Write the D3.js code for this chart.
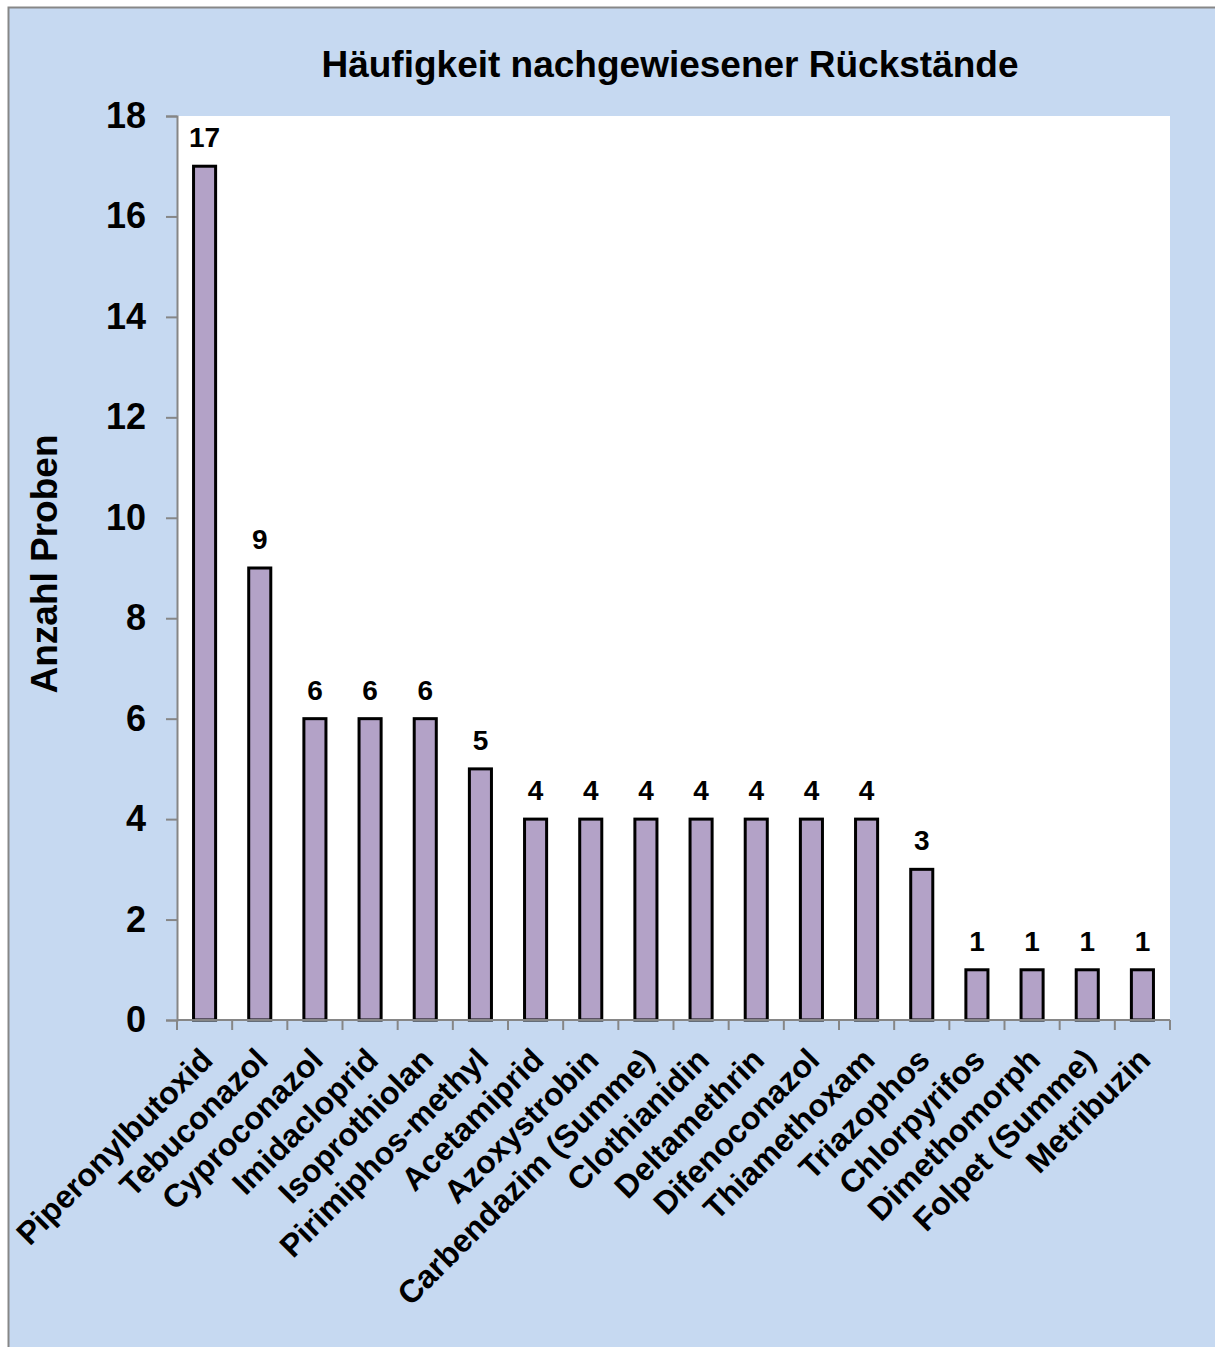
<!DOCTYPE html>
<html>
<head>
<meta charset="utf-8">
<script src="https://cdn.jsdelivr.net/npm/d3@7"></script>
<style>
  body { margin: 0; background: #fff; }
  text { font-family: "Liberation Sans", Arial, sans-serif; font-weight: bold; fill: #000; }
</style>
</head>
<body>
<div id="chart"></div>
<script>
'use strict';

// Data.
const substances = [
  'Piperonylbutoxid', 'Tebuconazol', 'Cyproconazol', 'Imidacloprid',
  'Isoprothiolan', 'Pirimiphos-methyl', 'Acetamiprid', 'Azoxystrobin',
  'Carbendazim (Summe)', 'Clothianidin', 'Deltamethrin', 'Difenoconazol',
  'Thiamethoxam', 'Triazophos', 'Chlorpyrifos', 'Dimethomorph',
  'Folpet (Summe)', 'Metribuzin',
];
const sampleCounts = [17, 9, 6, 6, 6, 5, 4, 4, 4, 4, 4, 4, 4, 3, 1, 1, 1, 1];
const yTicks = [0, 2, 4, 6, 8, 10, 12, 14, 16, 18];
const chartTitle = 'Häufigkeit nachgewiesener Rückstände';
const yTitle = 'Anzahl Proben';

const width = 1215;
const height = 1347;
const plot = {left: 177, right: 1170, top: 116, bottom: 1020};

const svg = d3.select('#chart').append('svg')
    .attr('width', width)
    .attr('height', height);

// Chart background with a grey frame running off the right and bottom edges.
svg.append('rect')
    .attr('x', 8.5)
    .attr('y', 7.5)
    .attr('width', width + 20)
    .attr('height', height + 20)
    .attr('fill', '#c6d9f1')
    .attr('stroke', '#878787')
    .attr('stroke-width', 2);

svg.append('rect')
    .attr('x', plot.left)
    .attr('y', plot.top)
    .attr('width', plot.right - plot.left)
    .attr('height', plot.bottom - plot.top)
    .attr('fill', '#ffffff');

const x = d3.scaleBand()
    .domain(substances)
    .range([plot.left, plot.right]);

const y = d3.scaleLinear()
    .domain([0, 18])
    .range([plot.bottom, plot.top]);

const barWidth = x.bandwidth() * 0.4;

svg.append('g')
    .selectAll('rect')
    .data(substances)
    .join('rect')
    .attr('x', (d) => x(d) + (x.bandwidth() - barWidth) / 2)
    .attr('y', (d, i) => y(sampleCounts[i]))
    .attr('width', barWidth)
    .attr('height', (d, i) => y(0) - y(sampleCounts[i]))
    .attr('fill', '#b3a2c7')
    .attr('stroke', '#000')
    .attr('stroke-width', 3);

// Value labels above the bars.
svg.append('g')
    .selectAll('text')
    .data(substances)
    .join('text')
    .attr('x', (d) => x(d) + x.bandwidth() / 2)
    .attr('y', (d, i) => y(sampleCounts[i]) - 19)
    .attr('text-anchor', 'middle')
    .style('font-size', '28px')
    .text((d, i) => sampleCounts[i]);

// Y axis.
const yAxis = svg.append('g')
    .attr('transform', `translate(${plot.left}, 0)`)
    .call(d3.axisLeft(y).tickValues(yTicks).tickSize(11).tickPadding(20));
yAxis.select('.domain').attr('stroke', '#868686').attr('stroke-width', 2);
yAxis.selectAll('.tick line').attr('stroke', '#868686').attr('stroke-width', 2);
yAxis.selectAll('.tick text')
    .style('font-family', '"Liberation Sans", Arial, sans-serif')
    .style('font-weight', 'bold')
    .style('font-size', '36px')
    .attr('fill', '#000');

// X axis: line plus tick marks on category boundaries.
const xAxis = svg.append('g');
xAxis.append('line')
    .attr('x1', plot.left)
    .attr('x2', plot.right)
    .attr('y1', plot.bottom)
    .attr('y2', plot.bottom)
    .attr('stroke', '#868686')
    .attr('stroke-width', 2);
const boundaries = substances.map((d) => x(d)).concat([plot.right]);
xAxis.selectAll('line.tick')
    .data(boundaries)
    .join('line')
    .attr('class', 'tick')
    .attr('x1', (d) => d)
    .attr('x2', (d) => d)
    .attr('y1', plot.bottom)
    .attr('y2', plot.bottom + 10)
    .attr('stroke', '#868686')
    .attr('stroke-width', 2);

xAxis.selectAll('text')
    .data(substances)
    .join('text')
    .attr('transform',
        (d) => `translate(${x(d) + x.bandwidth() / 2 + 2}, ${plot.bottom + 34}) rotate(-45)`)
    .attr('text-anchor', 'end')
    .attr('dy', '0.35em')
    .style('font-size', '32px')
    .text((d) => d);

// Titles.
svg.append('text')
    .attr('x', 670)
    .attr('y', 77)
    .attr('text-anchor', 'middle')
    .style('font-size', '37px')
    .text(chartTitle);

svg.append('text')
    .attr('transform', `translate(57, ${(plot.top + plot.bottom) / 2 - 4}) rotate(-90)`)
    .attr('text-anchor', 'middle')
    .style('font-size', '37px')
    .text(yTitle);
</script>
</body>
</html>
